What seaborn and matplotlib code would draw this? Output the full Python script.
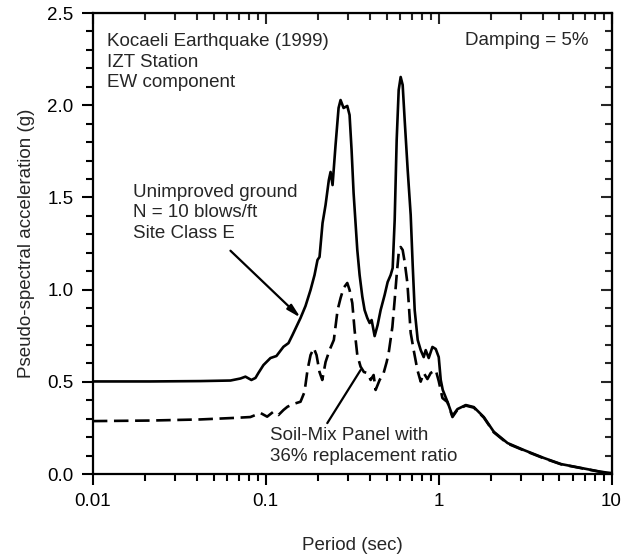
import numpy as np
import pandas as pd
import matplotlib
matplotlib.use('Agg')
import matplotlib.pyplot as plt
from matplotlib.ticker import MultipleLocator, LogLocator, NullFormatter
import seaborn as sns

# spectrum of unimproved ground (solid line) ----
period_unimproved = [0.01, 0.0215, 0.0419, 0.0625, 0.0714, 0.0763, 0.0826, 0.0872, 0.0907, 0.0970,
                     0.1065, 0.1153, 0.1266, 0.1354, 0.1428, 0.1589, 0.1698, 0.1816, 0.1915, 0.1993,
                     0.2047, 0.2131, 0.2218, 0.2317, 0.2371, 0.2435, 0.2534, 0.2638, 0.2709, 0.2820,
                     0.2962, 0.3054, 0.3137, 0.3222, 0.3385, 0.3491, 0.3619, 0.3731, 0.3868, 0.3989,
                     0.4097, 0.4264, 0.4438, 0.4619, 0.4872, 0.5071, 0.5278, 0.5422, 0.5569, 0.5719,
                     0.5874, 0.6032, 0.6194, 0.6362, 0.6622, 0.6893, 0.7079, 0.7270, 0.7568, 0.7876,
                     0.8198, 0.8420, 0.8763, 0.9207, 0.9622, 1.0014, 1.0285, 1.0563, 1.1246, 1.2023,
                     1.2851, 1.4355, 1.5974, 1.8252, 2.0855, 2.5036, 3.112, 4.063, 5.099, 6.658,
                     8.695, 10.0]
sa_unimproved = [0.502, 0.502, 0.504, 0.507, 0.518, 0.528, 0.510, 0.521, 0.548, 0.591,
                 0.629, 0.640, 0.690, 0.710, 0.754, 0.846, 0.911, 0.998, 1.079, 1.161,
                 1.177, 1.361, 1.459, 1.594, 1.638, 1.567, 1.784, 1.985, 2.028, 1.985,
                 1.996, 1.947, 1.757, 1.524, 1.215, 1.079, 0.962, 0.889, 0.846, 0.819,
                 0.835, 0.748, 0.808, 0.889, 0.971, 1.041, 1.079, 1.117, 1.377, 1.811,
                 2.082, 2.153, 2.110, 1.920, 1.649, 1.405, 1.133, 0.889, 0.727, 0.672,
                 0.634, 0.672, 0.629, 0.689, 0.678, 0.634, 0.510, 0.456, 0.392, 0.315,
                 0.352, 0.374, 0.363, 0.309, 0.229, 0.168, 0.130, 0.087, 0.054, 0.033,
                 0.012, 0.005]

# spectrum with soil-mix panel (dashed line) ----
period_soilmix = [0.01, 0.0215, 0.0419, 0.0650, 0.0815, 0.0932, 0.1019, 0.1108, 0.1185, 0.1266,
                  0.1336, 0.1447, 0.1589, 0.1676, 0.1744, 0.1816, 0.1897, 0.1967, 0.2047, 0.2123,
                  0.2218, 0.2339, 0.2477, 0.2603, 0.2709, 0.2820, 0.2962, 0.3054, 0.3167, 0.3265,
                  0.3385, 0.3537, 0.3697, 0.3868, 0.4043, 0.4207, 0.4321, 0.4558, 0.4808, 0.5004,
                  0.5140, 0.5400, 0.5569, 0.5719, 0.5874, 0.6032, 0.6194, 0.6362, 0.6596, 0.6893,
                  0.7173, 0.7538, 0.7876, 0.8198, 0.8613, 0.9002, 0.9622, 1.0014, 1.0520, 1.1246,
                  1.2023, 1.2851, 1.4355, 1.5974, 1.8252, 2.0855, 2.5036, 3.112, 4.063, 5.099,
                  6.658, 8.695, 10.0]
sa_soilmix = [0.287, 0.290, 0.296, 0.304, 0.309, 0.331, 0.311, 0.338, 0.320, 0.347,
              0.365, 0.380, 0.392, 0.445, 0.564, 0.645, 0.683, 0.645, 0.553, 0.510,
              0.607, 0.672, 0.727, 0.889, 0.954, 1.009, 1.036, 0.998, 0.927, 0.781,
              0.645, 0.582, 0.553, 0.548, 0.510, 0.537, 0.456, 0.510, 0.548, 0.607,
              0.656, 0.797, 0.944, 1.079, 1.198, 1.231, 1.215, 1.150, 1.036, 0.765,
              0.672, 0.564, 0.501, 0.548, 0.515, 0.548, 0.564, 0.504, 0.412, 0.390,
              0.309, 0.349, 0.371, 0.360, 0.306, 0.226, 0.165, 0.128, 0.085, 0.053,
              0.032, 0.011, 0.004]

x_ticks = [0.01, 0.1, 1, 10]
x_tick_labels = ['0.01', '0.1', '1', '10']

sns.set_style('ticks')
plt.rcParams['font.family'] = ['Liberation Sans', 'DejaVu Sans']
fs = 13.5

df_unimproved = pd.DataFrame({'Period': period_unimproved, 'Sa': sa_unimproved})
df_soilmix = pd.DataFrame({'Period': period_soilmix, 'Sa': sa_soilmix})

fig = plt.figure(figsize=(6.36, 5.58), dpi=100)
ax = fig.add_axes([0.146, 0.1505, 0.8155, 0.8262])

sns.lineplot(data=df_unimproved, x='Period', y='Sa', ax=ax, color='black', linewidth=1.9)
sns.lineplot(data=df_soilmix, x='Period', y='Sa', ax=ax, color='black', linewidth=1.9,
             linestyle=(0, (5.5, 2.5)))

ax.set_xscale('log')
ax.set_xlim(0.01, 10)
ax.set_ylim(0, 2.5)
ax.set_xticks(x_ticks)
ax.set_xticklabels(x_tick_labels)
ax.xaxis.set_minor_locator(LogLocator(base=10, subs=np.arange(2, 10)))
ax.xaxis.set_minor_formatter(NullFormatter())
ax.yaxis.set_major_locator(MultipleLocator(0.5))
ax.yaxis.set_minor_locator(MultipleLocator(0.1))
ax.yaxis.set_major_formatter(plt.FuncFormatter(lambda v, p: '%.1f' % v))

for s in ax.spines.values():
    s.set_linewidth(1.6)
    s.set_color('black')

ax.tick_params(which='both', direction='out', width=1.5, labelsize=fs, colors='black', pad=6)
ax.tick_params(which='major', length=8)
ax.tick_params(which='minor', length=5)

# inward ticks on the top and right ----
ax_top = ax.secondary_xaxis('top')
ax_top.set_xticks(x_ticks)
ax_top.xaxis.set_minor_locator(LogLocator(base=10, subs=np.arange(2, 10)))
ax_top.tick_params(which='both', direction='in', width=1.5, labeltop=False)
ax_top.tick_params(which='major', length=8)
ax_top.tick_params(which='minor', length=5)
ax_top.xaxis.set_minor_formatter(NullFormatter())
ax_top.set_xticklabels([])
ax_right = ax.secondary_yaxis('right')
ax_right.yaxis.set_major_locator(MultipleLocator(0.5))
ax_right.yaxis.set_minor_locator(MultipleLocator(0.1))
ax_right.tick_params(which='both', direction='in', width=1.5, labelright=False)
ax_right.tick_params(which='major', length=8)
ax_right.tick_params(which='minor', length=5)

ax.set_xlabel('Period (sec)', fontsize=fs, labelpad=19)
ax.set_ylabel('Pseudo-spectral acceleration (g)', fontsize=fs, labelpad=9)

ax.text(0.027, 0.956, 'Kocaeli Earthquake (1999)\nIZT Station\nEW component',
        transform=ax.transAxes, fontsize=fs, va='top', ha='left', linespacing=1.27)
ax.text(0.955, 0.958, 'Damping = 5%', transform=ax.transAxes, fontsize=fs, va='top', ha='right')

ax.text(0.078, 0.63, 'Unimproved ground\nN = 10 blows/ft\nSite Class E',
        transform=ax.transAxes, fontsize=fs, va='top', ha='left', linespacing=1.27)
ax.annotate('', xy=(0.159, 0.848), xytext=(0.0625, 1.211),
            arrowprops=dict(arrowstyle='-|>,head_length=0.8,head_width=0.2', color='black', lw=1.6,
                            shrinkA=0, shrinkB=0))

ax.text(0.341, 0.102, 'Soil-Mix Panel with\n36% replacement ratio',
        transform=ax.transAxes, fontsize=fs, va='top', ha='left', linespacing=1.27)
ax.plot([0.227, 0.3537], [0.276, 0.564], color='black', lw=1.6)

sns.despine(ax=ax, top=False, right=False)
fig.savefig('out.png', dpi=100)
